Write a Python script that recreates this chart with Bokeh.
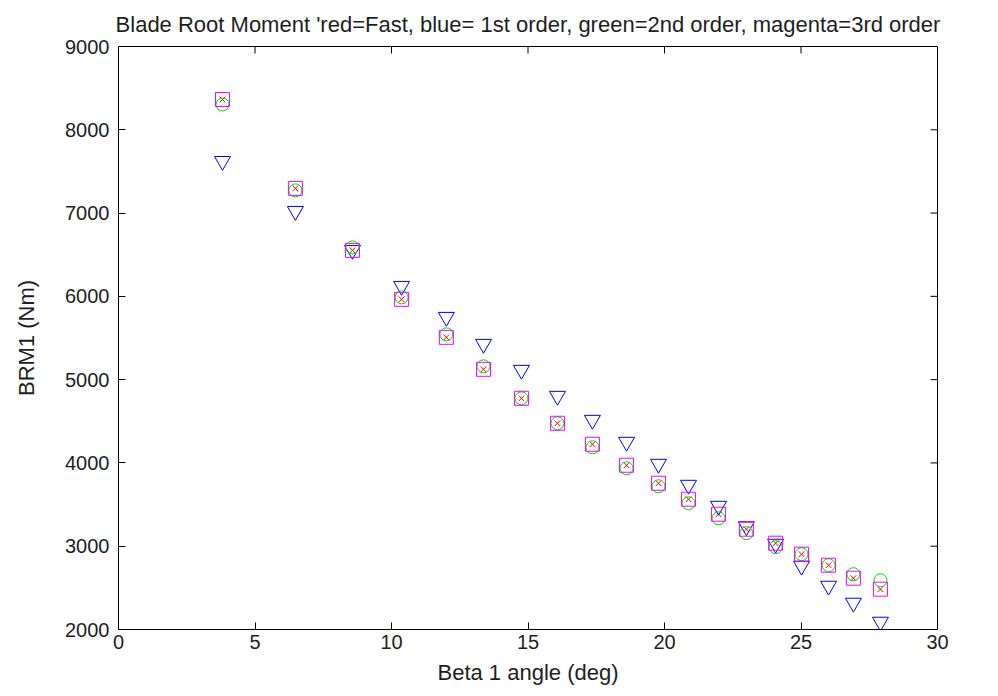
import math
from bokeh.plotting import figure
from bokeh.models import FixedTicker, Range1d
from bokeh.embed import file_html
from bokeh.resources import INLINE

# Beta 1 angle (deg)
beta = [3.81, 6.48, 8.57, 10.37, 12.01, 13.37, 14.76, 16.08, 17.36, 18.61,
        19.78, 20.88, 21.98, 23.00, 24.07, 25.02, 26.01, 26.92, 27.91]
# Blade root moment BRM1 (Nm)
fast = [8364, 7296, 6552, 5964, 5508, 5124, 4776, 4476, 4224, 3972,
        3756, 3564, 3384, 3204, 3036, 2904, 2772, 2616, 2484]
first_order = [7624, 7024, 6556, 6124, 5752, 5428, 5116, 4804, 4516, 4252,
               3988, 3736, 3484, 3238, 3028, 2764, 2524, 2320, 2092]
second_order = [8304, 7272, 6588, 5988, 5544, 5160, 4776, 4476, 4188, 3936,
                3720, 3516, 3336, 3156, 2988, 2904, 2772, 2664, 2592]
third_order = [8364, 7296, 6552, 5964, 5508, 5124, 4776, 4476, 4224, 3972,
               3756, 3564, 3384, 3204, 3036, 2904, 2772, 2616, 2484]

x_ticks = [0, 5, 10, 15, 20, 25, 30]
y_ticks = [2000, 3000, 4000, 5000, 6000, 7000, 8000, 9000]

FONT = "Liberation Sans"
TXT = "#1e1e1e"

p = figure(width=998, height=696, output_backend="svg", toolbar_location=None,
           x_range=Range1d(x_ticks[0], x_ticks[-1]), y_range=Range1d(y_ticks[0], y_ticks[-1]),
           title="Blade Root Moment 'red=Fast, blue= 1st order, green=2nd order, magenta=3rd order",
           min_border_left=118, min_border_right=61, min_border_top=45, min_border_bottom=67)
p.background_fill_color = "white"
p.border_fill_color = "white"
p.outline_line_color = "black"
p.outline_line_width = 1
p.xgrid.visible = False
p.ygrid.visible = False

p.title.align = "center"
p.title.text_font = FONT
p.title.text_font_size = "22px"
p.title.text_font_style = "normal"
p.title.text_color = TXT
p.title.offset = 0
p.title.standoff = 19

for ax in p.xaxis:
    ax.ticker = FixedTicker(ticks=x_ticks)
    ax.axis_label = "Beta 1 angle (deg)"
    ax.major_label_standoff = 5
    ax.axis_label_standoff = 8
for ax in p.yaxis:
    ax.ticker = FixedTicker(ticks=y_ticks)
    ax.axis_label = "BRM1 (Nm)"
    ax.major_label_standoff = 9
    ax.axis_label_standoff = 23

for ax in list(p.xaxis) + list(p.yaxis):
    ax.major_tick_in = 7
    ax.major_tick_out = 0
    ax.minor_tick_in = 0
    ax.minor_tick_out = 0
    ax.axis_line_color = "black"
    ax.major_tick_line_color = "black"
    ax.major_label_text_font = FONT
    ax.major_label_text_font_size = "20px"
    ax.major_label_text_color = TXT
    ax.axis_label_text_font = FONT
    ax.axis_label_text_font_size = "22px"
    ax.axis_label_text_font_style = "normal"
    ax.axis_label_text_color = TXT

# box ticks on top and right edges (half of each dash is clipped by the frame)
inner_x = x_ticks[1:-1]
inner_y = y_ticks[1:-1]
p.scatter(inner_x, [y_ticks[-1]] * len(inner_x), marker="dash", angle=math.pi / 2,
          size=14, line_color="black", line_width=1)
p.scatter([x_ticks[-1]] * len(inner_y), inner_y, marker="dash",
          size=14, line_color="black", line_width=1)

p.scatter(beta, fast, marker="x", size=8, line_color="red", line_width=1)
p.scatter(beta, first_order, marker="inverted_triangle", size=16, line_color="blue",
          fill_color=None, line_width=1)
p.scatter(beta, second_order, marker="circle", size=13, line_color="#00dd00",
          fill_color=None, line_width=1)
p.scatter(beta, third_order, marker="square", size=14, line_color="magenta",
          fill_color=None, line_width=1)

open("out.html", "w").write(file_html(p, INLINE))
